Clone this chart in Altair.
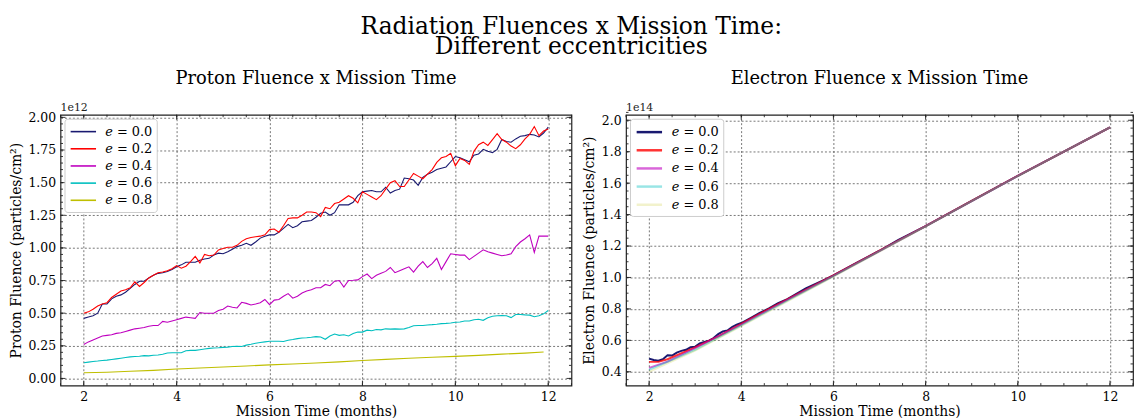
import altair as alt
import pandas as pd

FONT = "DejaVu Serif"
LABELS = ["𝑒 = 0.0", "𝑒 = 0.2", "𝑒 = 0.4", "𝑒 = 0.6", "𝑒 = 0.8"]
COLORS = ["#191970", "#ff0000", "#bf00bf", "#00bfbf", "#bfbf00"]
# same hues, fading with eccentricity, for the electron panel
COLORS_FADED = ["rgba(25,25,112,1)", "rgba(255,0,0,0.8)", "rgba(191,0,191,0.6)",
                "rgba(0,191,191,0.4)", "rgba(191,191,0,0.2)"]

# ---- Proton fluence (units of 1e12 particles/cm^2) ----
grid_t = [round(2.0 + 0.1 * i, 1) for i in range(101)]

proton_e00 = [0.46, 0.47, 0.48, 0.50, 0.57, 0.57, 0.61, 0.63, 0.64, 0.66,
              0.69, 0.72, 0.745, 0.745, 0.77, 0.79, 0.805, 0.81, 0.82, 0.835,
              0.855, 0.87, 0.89, 0.89, 0.89, 0.905, 0.915, 0.92, 0.945, 0.96,
              0.955, 0.97, 0.99, 1.01, 1.02, 1.035, 1.02, 1.045, 1.075, 1.09,
              1.10, 1.10, 1.12, 1.15, 1.18, 1.155, 1.17, 1.20, 1.205, 1.21,
              1.235, 1.265, 1.275, 1.25, 1.27, 1.33, 1.33, 1.33, 1.35, 1.40,
              1.43, 1.435, 1.44, 1.43, 1.43, 1.465, 1.42, 1.44, 1.45, 1.535,
              1.53, 1.52, 1.48, 1.54, 1.565, 1.58, 1.60, 1.61, 1.62, 1.66,
              1.70, 1.69, 1.675, 1.66, 1.71, 1.72, 1.755, 1.74, 1.73, 1.755,
              1.83, 1.815, 1.81, 1.835, 1.855, 1.86, 1.87, 1.865, 1.85, 1.88,
              1.925]
proton_e02 = [0.50, 0.51, 0.53, 0.555, 0.57, 0.58, 0.62, 0.645, 0.67, 0.68,
              0.695, 0.74, 0.705, 0.735, 0.77, 0.79, 0.81, 0.815, 0.825, 0.84,
              0.865, 0.845, 0.86, 0.895, 0.935, 0.885, 0.95, 0.94, 0.945, 0.985,
              0.995, 1.005, 1.005, 1.02, 1.05, 1.07, 1.08, 1.085, 1.09, 1.10,
              1.14, 1.145, 1.12, 1.17, 1.225, 1.23, 1.23, 1.25, 1.275, 1.275,
              1.27, 1.24, 1.31, 1.30, 1.34, 1.35, 1.375, 1.40, 1.38, 1.345,
              1.43, 1.41, 1.39, 1.37, 1.40, 1.45, 1.50, 1.515, 1.47, 1.47,
              1.52, 1.57, 1.55, 1.53, 1.565, 1.60, 1.655, 1.69, 1.70, 1.725,
              1.63, 1.685, 1.67, 1.64, 1.74, 1.79, 1.81, 1.785, 1.83, 1.875,
              1.83, 1.81, 1.78, 1.76, 1.79, 1.835, 1.87, 1.93, 1.86, 1.895,
              1.91]
proton_e04 = [0.26, 0.28, 0.295, 0.31, 0.325, 0.33, 0.335, 0.345, 0.35, 0.36,
              0.37, 0.38, 0.385, 0.39, 0.40, 0.405, 0.405, 0.437, 0.43, 0.44,
              0.45, 0.46, 0.47, 0.465, 0.46, 0.505, 0.50, 0.50, 0.50, 0.52,
              0.53, 0.555, 0.545, 0.54, 0.583, 0.575, 0.563, 0.57, 0.58, 0.605,
              0.565, 0.60, 0.605, 0.63, 0.65, 0.615, 0.63, 0.655, 0.67, 0.68,
              0.695, 0.695, 0.72, 0.71, 0.745, 0.75, 0.70, 0.75, 0.752, 0.755,
              0.78, 0.80, 0.765, 0.79, 0.805, 0.82, 0.85, 0.81, 0.825, 0.84,
              0.855, 0.815, 0.86, 0.895, 0.85, 0.88, 0.92, 0.835, 0.895, 0.955,
              0.95, 0.945, 0.945, 0.91, 0.935, 0.96, 0.985, 0.97, 0.96, 0.95,
              0.94, 0.945, 0.955, 1.01, 1.045, 1.07, 1.10, 0.965, 1.09, 1.09,
              1.09]
proton_e06 = [0.12, 0.125, 0.13, 0.133, 0.137, 0.14, 0.145, 0.15, 0.155, 0.16,
              0.165, 0.168, 0.17, 0.175, 0.173, 0.178, 0.18, 0.185, 0.195, 0.197,
              0.197, 0.197, 0.212, 0.215, 0.215, 0.22, 0.225, 0.23, 0.233, 0.235,
              0.238, 0.24, 0.245, 0.247, 0.245, 0.255, 0.262, 0.27, 0.275, 0.28,
              0.285, 0.285, 0.285, 0.283, 0.292, 0.298, 0.305, 0.31, 0.312, 0.315,
              0.32, 0.318, 0.30, 0.325, 0.34, 0.33, 0.335, 0.325, 0.345, 0.355,
              0.355, 0.37, 0.365, 0.375, 0.372, 0.38, 0.378, 0.38, 0.378, 0.38,
              0.39, 0.404, 0.405, 0.405, 0.41, 0.412, 0.415, 0.42, 0.422, 0.425,
              0.43, 0.432, 0.44, 0.44, 0.45, 0.453, 0.445, 0.465, 0.477, 0.48,
              0.482, 0.48, 0.466, 0.49, 0.49, 0.487, 0.485, 0.473, 0.48, 0.495,
              0.52]
proton_e08_t = [2.0, 2.5, 3.0, 3.5, 4.0, 4.5, 5.0, 5.5, 6.0, 6.5, 7.0,
                7.5, 8.0, 8.5, 9.0, 9.5, 10.0, 10.5, 11.0, 11.5, 11.9]
proton_e08 = [0.043, 0.048, 0.055, 0.062, 0.072, 0.080, 0.088, 0.095, 0.104,
              0.11, 0.118, 0.127, 0.137, 0.146, 0.155, 0.162, 0.169, 0.177,
              0.186, 0.194, 0.203]

# ---- Electron fluence (units of 1e14 particles/cm^2) ----
electron_e00_t = [2.0, 2.1, 2.2, 2.3, 2.4, 2.5, 2.6, 2.7, 2.8, 2.9, 3.0, 3.1,
                  3.2, 3.3, 3.4, 3.5, 3.6, 3.7, 3.8, 3.9, 4.0, 4.2, 4.4, 4.6,
                  4.8, 5.0, 5.4, 5.8, 6.0, 6.5, 7.0, 7.4, 8.0, 9.0, 10.0, 11.0, 12.0]
electron_e00 = [0.484, 0.475, 0.47, 0.48, 0.505, 0.503, 0.522, 0.533, 0.54,
                0.556, 0.56, 0.58, 0.59, 0.598, 0.615, 0.64, 0.657, 0.663,
                0.685, 0.70, 0.71, 0.742, 0.775, 0.803, 0.836, 0.862, 0.93,
                0.985, 1.013, 1.093, 1.17, 1.238, 1.327, 1.487, 1.647, 1.80, 1.955]
electron_e02_t = [2.0, 2.2, 2.4, 3.0, 3.5, 4.0, 4.5, 5.0, 6.0, 7.0, 8.0, 9.0,
                  10.0, 11.0, 12.0]
electron_e02 = [0.463, 0.463, 0.48, 0.555, 0.625, 0.705, 0.785, 0.86, 1.013,
                1.17, 1.327, 1.487, 1.647, 1.80, 1.955]
electron_e04_t = [2.0, 2.4, 3.0, 4.0, 5.0, 6.0, 7.0, 8.0, 9.0, 10.0, 11.0, 12.0]
electron_e04 = [0.425, 0.465, 0.55, 0.70, 0.857, 1.01, 1.168, 1.326, 1.486,
                1.646, 1.80, 1.955]
electron_e06_t = [2.0, 3.0, 4.0, 5.0, 6.0, 7.0, 8.0, 9.0, 10.0, 11.0, 12.0]
electron_e06 = [0.413, 0.54, 0.695, 0.853, 1.008, 1.167, 1.325, 1.485, 1.645,
                1.80, 1.955]
electron_e08_t = [2.0, 3.0, 4.0, 5.0, 6.0, 7.0, 8.0, 9.0, 10.0, 11.0, 12.0]
electron_e08 = [0.40, 0.535, 0.69, 0.848, 1.005, 1.165, 1.325, 1.485, 1.645,
                1.80, 1.955]

X_MAJOR = [2, 4, 6, 8, 10, 12]
X_MINOR = [1.5 + 0.5 * i for i in range(23)]
P_MAJOR = [0.25 * i for i in range(9)]
P_MINOR = [round(0.05 * i, 2) for i in range(41)]
E_MAJOR = [round(0.4 + 0.2 * i, 1) for i in range(9)]
E_MINOR = [round(0.35 + 0.05 * i, 2) for i in range(35)]

W_LEFT, W_RIGHT, H = 515, 511, 273


def long_table(series):
    rows = []
    for label, ts, vs in series:
        for t, v in zip(ts, vs):
            rows.append({"t": t, "v": v, "e": label})
    return pd.DataFrame(rows)


proton = long_table([
    (LABELS[0], grid_t, proton_e00),
    (LABELS[1], grid_t, proton_e02),
    (LABELS[2], grid_t, proton_e04),
    (LABELS[3], grid_t, proton_e06),
    (LABELS[4], proton_e08_t, proton_e08),
])
electron = long_table([
    (LABELS[0], electron_e00_t, electron_e00),
    (LABELS[1], electron_e02_t, electron_e02),
    (LABELS[2], electron_e04_t, electron_e04),
    (LABELS[3], electron_e06_t, electron_e06),
    (LABELS[4], electron_e08_t, electron_e08),
])


def tick_layers(xs, ys, ax_x, ax_y, width, height, y_major, y_minor):
    """Inward major/minor ticks on all four sides of the frame."""
    layers = []
    for vals, size in ((X_MAJOR, 5), (X_MINOR, 2.5)):
        d = pd.DataFrame({"t": vals})
        for y0, y1 in ((height, height - size), (0, size)):
            layers.append(alt.Chart(d).mark_rule(color="#222", strokeWidth=0.9).encode(
                x=alt.X("t:Q", scale=xs, axis=ax_x),
                y=alt.value(y0), y2=alt.value(y1)))
    for vals, size in ((y_major, 5), (y_minor, 2.5)):
        d = pd.DataFrame({"v": vals})
        for x0, x1 in ((0, size), (width, width - size)):
            layers.append(alt.Chart(d).mark_rule(color="#222", strokeWidth=0.9).encode(
                y=alt.Y("v:Q", scale=ys, axis=ax_y),
                x=alt.value(x0), x2=alt.value(x1)))
    return layers


def panel(df, width, colors, y_domain, y_major, y_minor, y_fmt, y_title, title,
          exponent, stroke_w, sym_w):
    xs = alt.Scale(domain=[1.5, 12.5], nice=False, zero=False)
    ys = alt.Scale(domain=y_domain, nice=False, zero=False)
    ax_x = alt.Axis(values=X_MAJOR, title="Mission Time (months)", format="d",
                    labelPadding=5, titlePadding=2)
    ax_y = alt.Axis(values=y_major, title=y_title, format=y_fmt)
    legend = alt.Legend(
        title=None, orient="top-left", offset=4, padding=4,
        fillColor="white", strokeColor="#cccccc", cornerRadius=3,
        symbolType="M-1.6,0L1.6,0", symbolSize=256, symbolStrokeWidth=sym_w,
        labelFont=FONT, labelFontSize=13, labelColor="black", labelLimit=200,
        rowPadding=1.3, labelOffset=13, symbolOffset=6,
    )
    lines = alt.Chart(df).mark_line(strokeWidth=stroke_w).encode(
        x=alt.X("t:Q", scale=xs, axis=ax_x),
        y=alt.Y("v:Q", scale=ys, axis=ax_y),
        color=alt.Color("e:N", scale=alt.Scale(domain=LABELS, range=colors),
                        legend=legend),
    )
    expo = alt.Chart(pd.DataFrame({"s": [exponent]})).mark_text(
        align="left", baseline="bottom", font=FONT, fontSize=11, color="#222"
    ).encode(x=alt.value(0), y=alt.value(-2), text="s:N")
    layers = [lines] + tick_layers(xs, ys, ax_x, ax_y, width, H, y_major, y_minor) + [expo]
    return alt.layer(*layers).properties(
        width=width, height=H,
        title=alt.TitleParams(title, font=FONT, fontSize=18, fontWeight="normal",
                              color="black", offset=14),
    )


left = panel(proton, W_LEFT, COLORS, [-0.055, 2.02], P_MAJOR, P_MINOR, ".2f",
             "Proton Fluence (particles/cm²)", "Proton Fluence x Mission Time",
             "1e12", 1.1, 1.6)
right = panel(electron, W_RIGHT, COLORS_FADED, [0.312, 2.035], E_MAJOR, E_MINOR, ".1f",
              "Electron Fluence (particles/cm²)", "Electron Fluence x Mission Time",
              "1e14", 2.0, 2.5)

chart = alt.hconcat(left, right, spacing=8).resolve_scale(
    color="independent"
).resolve_legend(
    color="independent"
).properties(
    title=alt.TitleParams(
        ["Radiation Fluences x Mission Time:", "Different eccentricities"],
        font=FONT, fontSize=23.5, fontWeight="normal", color="black",
        anchor="middle", lineHeight=20.5, offset=11),
    padding={"left": 8, "top": 13, "right": 0, "bottom": 0},
).configure_view(
    stroke="#222", strokeWidth=1.2
).configure_axis(
    labelFont=FONT, labelFontSize=12.5, labelColor="black",
    titleFont=FONT, titleFontSize=14, titleColor="black", titleFontWeight="normal",
    ticks=False, domain=False, labelPadding=5, titlePadding=5,
    grid=True, gridColor="#555555", gridDash=[2, 2], gridWidth=0.8,
)

chart.save("out.html", embed_options={"renderer": "svg", "actions": False})
